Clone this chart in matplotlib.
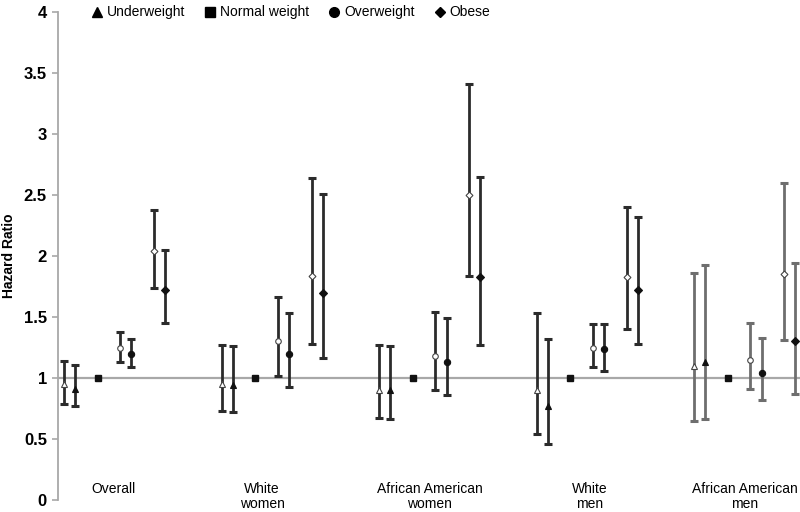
import matplotlib
matplotlib.use("Agg")
import matplotlib.pyplot as plt
from matplotlib.lines import Line2D
import numpy as np

groups = ["Overall", "White\nwomen", "African American\nwomen", "White\nmen", "African American\nmen"]

# Underweight: model 1 (open) and model 2 (filled): point, lower, upper
uw1 = [0.95, 0.95, 0.90, 0.90, 1.10]
uw1_lo = [0.79, 0.73, 0.67, 0.54, 0.65]
uw1_hi = [1.14, 1.27, 1.27, 1.53, 1.86]
uw2 = [0.91, 0.94, 0.90, 0.77, 1.13]
uw2_lo = [0.77, 0.72, 0.66, 0.46, 0.66]
uw2_hi = [1.11, 1.26, 1.26, 1.32, 1.93]

normal = [1.0, 1.0, 1.0, 1.0, 1.0]

ow1 = [1.25, 1.30, 1.18, 1.25, 1.15]
ow1_lo = [1.13, 1.02, 0.90, 1.09, 0.91]
ow1_hi = [1.38, 1.66, 1.54, 1.44, 1.45]
ow2 = [1.20, 1.20, 1.13, 1.24, 1.04]
ow2_lo = [1.09, 0.93, 0.86, 1.06, 0.82]
ow2_hi = [1.32, 1.53, 1.49, 1.44, 1.33]

ob1 = [2.04, 1.84, 2.50, 1.83, 1.85]
ob1_lo = [1.74, 1.28, 1.84, 1.40, 1.31]
ob1_hi = [2.38, 2.64, 3.41, 2.40, 2.60]
ob2 = [1.72, 1.70, 1.83, 1.72, 1.30]
ob2_lo = [1.45, 1.16, 1.27, 1.28, 0.87]
ob2_hi = [2.05, 2.51, 2.65, 2.32, 1.94]

yticks = [0, 0.5, 1, 1.5, 2, 2.5, 3, 3.5, 4]
ytick_labels = ["0", "0.5", "1", "1.5", "2", "2.5", "3", "3.5", "4"]
legend_labels = ["Underweight", "Normal weight", "Overweight", "Obese"]

plt.rcParams['font.family'] = ['Liberation Sans', 'DejaVu Sans']

fig = plt.figure(figsize=(8, 5.12), dpi=100)
ax = fig.add_axes([0.0725, 0.0234, 0.9275, 0.9532])

gstep = 14
base = np.arange(len(groups)) * gstep
line_col = ["#2b2b2b", "#2b2b2b", "#2b2b2b", "#2b2b2b", "#6e6e6e"]

ax.axhline(1.0, color="#a8a8a8", lw=1.6, zorder=1)

def draw(offset, vals, lo, hi, marker, filled, ms):
    for i in range(len(groups)):
        x = base[i] + offset
        v = vals[i]
        ax.errorbar([x], [v], yerr=[[v - lo[i]], [hi[i] - v]], fmt='none',
                    ecolor=line_col[i], elinewidth=2.0, capsize=3, capthick=2.2, zorder=2)
        ax.plot([x], [v], marker=marker, ms=ms, mfc=("#111111" if filled else "white"),
                mec="#111111" if filled else "#444444", mew=0.8, ls='none', zorder=3)

draw(0, uw1, uw1_lo, uw1_hi, '^', False, 4)
draw(1, uw2, uw2_lo, uw2_hi, '^', True, 4.5)
for i in range(len(groups)):
    ax.plot([base[i] + 3], [normal[i]], marker='s', ms=5, mfc="#111111", mec="#111111", ls='none', zorder=3)
draw(5, ow1, ow1_lo, ow1_hi, 'o', False, 4)
draw(6, ow2, ow2_lo, ow2_hi, 'o', True, 4.5)
draw(8, ob1, ob1_lo, ob1_hi, 'D', False, 3.5)
draw(9, ob2, ob2_lo, ob2_hi, 'D', True, 4)

ax.set_xlim(-0.53, 65.4)
ax.set_ylim(0, 4)
ax.set_yticks(yticks)
ax.set_yticklabels(ytick_labels, fontsize=12, fontweight='bold')
ax.set_xticks([])
for s in ["top", "right", "bottom"]:
    ax.spines[s].set_visible(False)
ax.spines["left"].set_color("#a8a8a8")
ax.spines["left"].set_linewidth(1.3)
ax.tick_params(axis='y', length=4, width=1.2, color="#a8a8a8", pad=4, direction='out')
ax.set_ylabel("Hazard Ratio", fontsize=10, fontweight='bold')
ax.yaxis.set_label_coords(-0.0566, 0.50)

label_off = [4.4, 3.6, 4.5, 4.7, 4.5]
for i, g in enumerate(groups):
    ax.text(base[i] + label_off[i], 0.15, g, ha='center', va='top', fontsize=10, linespacing=1.1)

handles = [
    Line2D([], [], marker='^', color='black', ls='none', ms=7),
    Line2D([], [], marker='s', color='black', ls='none', ms=7),
    Line2D([], [], marker='o', color='black', ls='none', ms=7),
    Line2D([], [], marker='D', color='black', ls='none', ms=5.5),
]
ax.legend(handles, legend_labels, loc='upper left', bbox_to_anchor=(0.025, 1.039), ncol=4,
          frameon=False, fontsize=10, handletextpad=0.1, columnspacing=1.2, handlelength=1.2)

fig.savefig("out.png", dpi=100)
